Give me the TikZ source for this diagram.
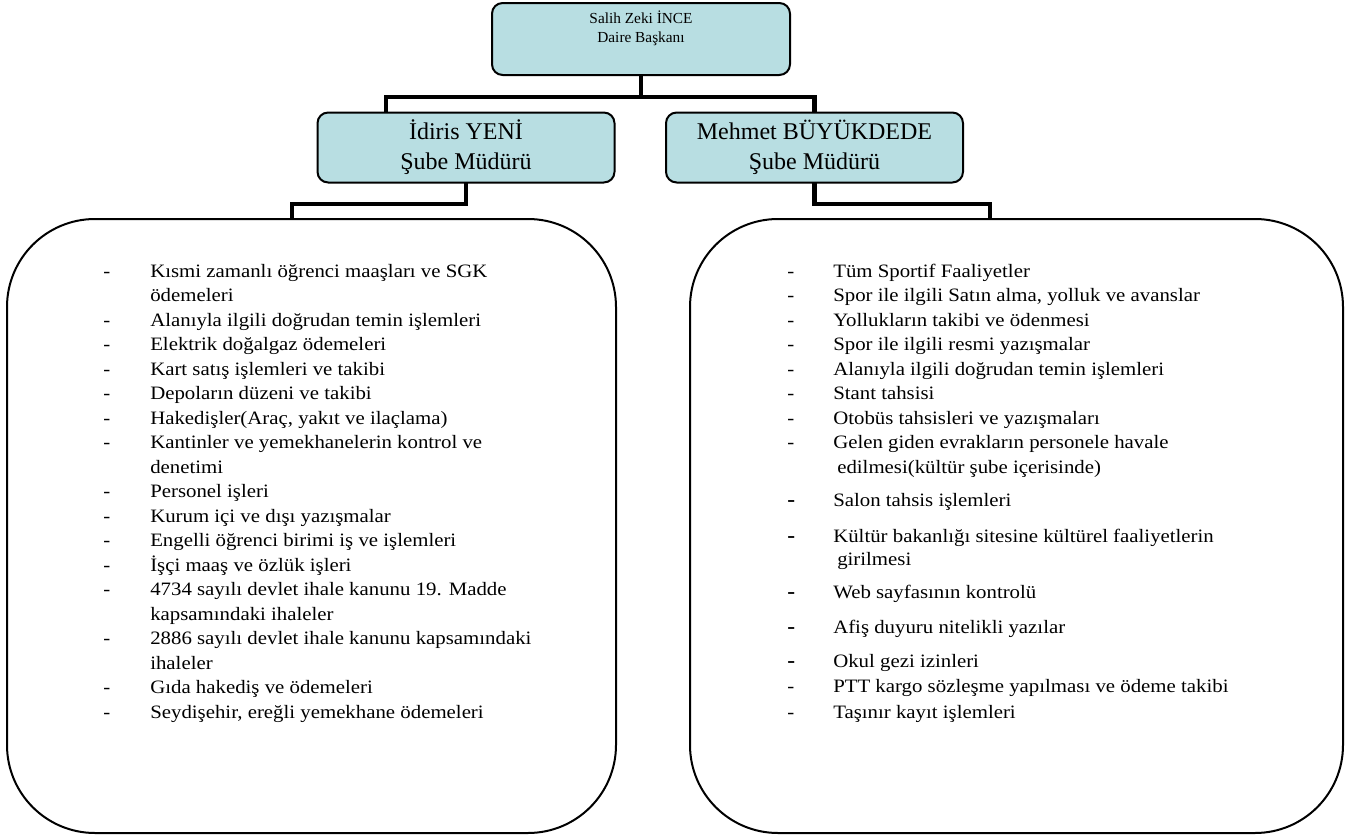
\documentclass[tikz,border=0pt]{standalone}
\usepackage{fontspec}
\setmainfont{Liberation Serif}
\newfontfamily\listfont{Liberation Serif}[FakeStretch=1.1]
\usepackage{tikz}
\usetikzlibrary{positioning}
\definecolor{BoxFill}{RGB}{184,222,226}
\newcommand{\bigdash}{{\fontsize{16pt}{16pt}\selectfont\bfseries -}}

\begin{document}
\begin{tikzpicture}[x=0.75pt,y=-0.75pt]
  \tikzset{HeadStyle/.style = {
    shape           = rectangle,
    draw            = black,
    fill            = BoxFill,
    line width      = 1.5pt,
    rounded corners = 8pt,
    minimum width   = 223.5pt,
    minimum height  = 54pt,
    inner sep       = 0pt,
    outer sep       = 0pt
    }
  }
  \tikzset{HeadTextStyle/.style = {
    align           = center,
    inner sep       = 0pt,
    font            = \fontsize{11.5pt}{14.25pt}\selectfont
    }
  }
  \tikzset{ChiefStyle/.style = {
    shape           = rectangle,
    draw            = black,
    fill            = BoxFill,
    line width      = 1.5pt,
    rounded corners = 8pt,
    minimum width   = 222.75pt,
    minimum height  = 52.5pt,
    inner sep       = 0pt,
    outer sep       = 0pt,
    align           = center,
    font            = \fontsize{18pt}{22.5pt}\selectfont
    }
  }
  \tikzset{DutyStyle/.style = {
    shape           = rectangle,
    draw            = black,
    fill            = white,
    line width      = 1.5pt,
    rounded corners = 66pt,
    minimum height  = 460.5pt,
    inner sep       = 0pt,
    outer sep       = 0pt
    }
  }
  \tikzset{LinkStyle/.style = {
    draw            = black,
    line width      = 3.6pt
    }
  }
  \tikzset{ItemStyle/.style = {
    anchor          = base west,
    inner sep       = 0pt,
    font            = \listfont\fontsize{14.2pt}{18pt}\selectfont
    }
  }

  \useasboundingbox (0,0) rectangle (1364,835);

  \coordinate (TopBarL) at (386,97);
  \coordinate (LeftBend) at (292,204);
  \coordinate (RightBend) at (990,204);

  \node[HeadStyle](Head) at (641,39) {};
  \node[HeadTextStyle, below=6pt of Head.north](HeadName) {Salih Zeki İNCE\\Daire Başkanı};
  \node[ChiefStyle](LeftChief) at (466,147.5) {İdiris YENİ\\Şube Müdürü};
  \node[ChiefStyle](RightChief) at (814.5,147.5) {Mehmet BÜYÜKDEDE\\Şube Müdürü};

  \draw[LinkStyle](Head.south) |- (TopBarL) -- (TopBarL |- LeftChief.north);
  \draw[LinkStyle](Head.south) |- (RightChief.north |- TopBarL) -- (RightChief.north);
  \draw[LinkStyle](LeftChief.south) |- (LeftBend) -- (LeftBend |- 0,219);
  \draw[LinkStyle](RightChief.south) |- (RightBend) -- (RightBend |- 0,219);

  \node[DutyStyle, minimum width=456.75pt](LeftDuty) at (311.5,526) {};
  \node[DutyStyle, minimum width=489.75pt](RightDuty) at (1016.5,526) {};

  \foreach \y/\d/\t [count=\i] in {
    277/1/{Kısmi zamanlı öğrenci maaşları ve SGK},
    301.5/0/{ödemeleri},
    326/1/{Alanıyla ilgili doğrudan temin işlemleri},
    350.5/1/{Elektrik doğalgaz ödemeleri},
    375/1/{Kart satış işlemleri ve takibi},
    399.5/1/{Depoların düzeni ve takibi},
    424/1/{Hakedişler(Araç, yakıt ve ilaçlama)},
    448.5/1/{Kantinler ve yemekhanelerin kontrol ve},
    473/0/{denetimi},
    497.5/1/{Personel işleri},
    522/1/{Kurum içi ve dışı yazışmalar},
    546.5/1/{Engelli öğrenci birimi iş ve işlemleri},
    571/1/{İşçi maaş ve özlük işleri},
    595.5/1/{4734 sayılı devlet ihale kanunu 19. Madde},
    620/0/{kapsamındaki ihaleler},
    644.5/1/{2886 sayılı devlet ihale kanunu kapsamındaki},
    669/0/{ihaleler},
    693.5/1/{Gıda hakediş ve ödemeleri},
    718/1/{Seydişehir, ereğli yemekhane ödemeleri}}{
    \ifnum\d>0 \node[ItemStyle](LeftDash\i) at (103,\y) {-};\fi
    \node[ItemStyle](LeftItem\i) at (150,\y) {\t};
  }

  \foreach \y/\d/\x/\t [count=\i] in {
    277/1/833/{Tüm Sportif Faaliyetler},
    301.5/1/833/{Spor ile ilgili Satın alma, yolluk ve avanslar},
    326/1/833/{Yollukların takibi ve ödenmesi},
    350.5/1/833/{Spor ile ilgili resmi yazışmalar},
    375/1/833/{Alanıyla ilgili doğrudan temin işlemleri},
    399.5/1/833/{Stant tahsisi},
    424/1/833/{Otobüs tahsisleri ve yazışmaları},
    448.5/1/833/{Gelen giden evrakların personele havale},
    473/0/837/{edilmesi(kültür şube içerisinde)},
    506/2/833/{Salon tahsis işlemleri},
    542/2/833/{Kültür bakanlığı sitesine kültürel faaliyetlerin},
    565/0/837/{girilmesi},
    598/2/833/{Web sayfasının kontrolü},
    633/2/833/{Afiş duyuru nitelikli yazılar},
    667/2/833/{Okul gezi izinleri},
    692/1/833/{PTT kargo sözleşme yapılması ve ödeme takibi},
    718/1/833/{Taşınır kayıt işlemleri}}{
    \ifcase\d\or
      \node[ItemStyle](RightDash\i) at (787,\y) {-};
    \or
      \node[ItemStyle](RightDash\i) at (787,\y) {\bigdash};
    \fi
    \node[ItemStyle](RightItem\i) at (\x,\y) {\t};
  }

\end{tikzpicture}
\end{document}
